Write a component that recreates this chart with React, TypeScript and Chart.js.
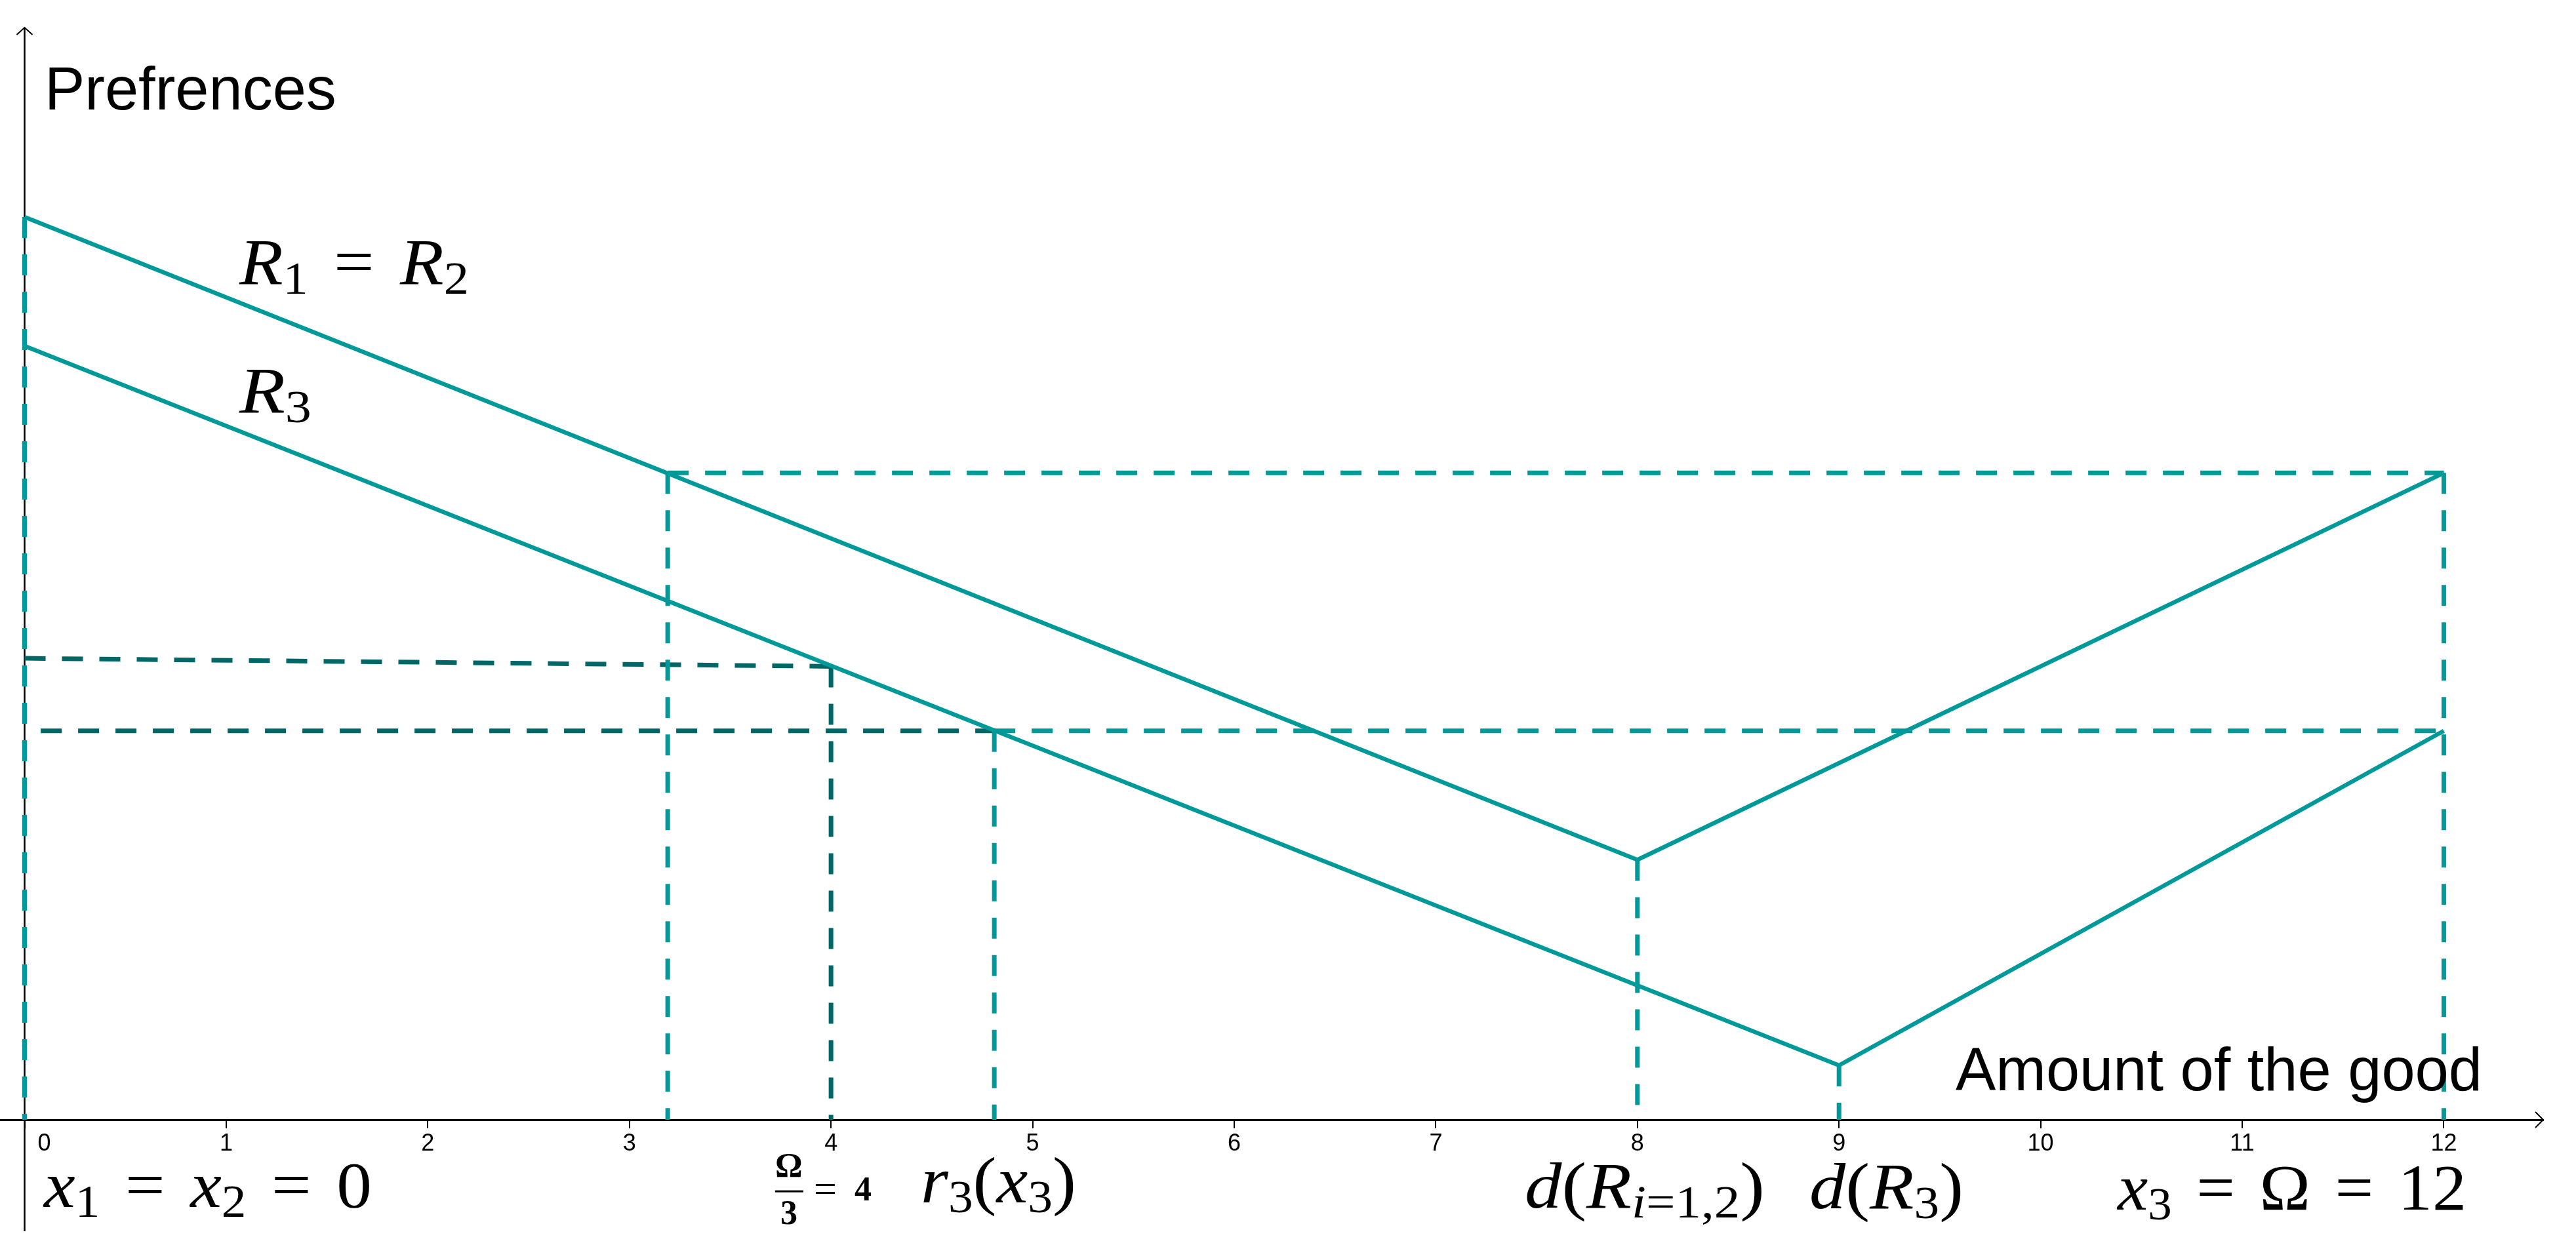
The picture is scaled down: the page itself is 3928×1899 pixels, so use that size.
import React, { useEffect, useRef } from "react";
import { Chart, registerables } from "chart.js";

Chart.register(...registerables);

const W = 3928;
const H = 1899;
const TEAL = "rgb(0, 153, 153)";
const DARK = "rgb(0, 102, 102)";

// axis ranges (data units)
const X_MIN = -0.122;
const X_MAX = 12.493;
const Y_MIN = 0;
const Y_MAX = 5.42;
const Y_AXIS_BOTTOM = -0.553;

// x axis ticks
const xTickValues = [0, 1, 2, 3, 4, 5, 6, 7, 8, 9, 10, 11, 12];
const xTickLabels = ["0", "1", "2", "3", "4", "5", "6", "7", "8", "9", "10", "11", "12"];

// preference curves
const r12X = [0, 8, 12];
const r12Y = [4.48, 1.29, 3.21];
const r3X = [0, 9, 12];
const r3Y = [3.84, 0.27, 1.93];

// dashed guides: [xStart, yStart, xEnd, yEnd]
const tealGuides: number[][] = [
  [0, 4.48, 0, 0],
  [3.19, 3.21, 12, 3.21],
  [3.19, 3.21, 3.19, 0],
  [4.81, 1.93, 12, 1.93],
  [4.81, 1.93, 4.81, 0],
  [8, 1.29, 8, 0],
  [9, 0.27, 9, 0],
  [12, 3.21, 12, 0],
];
const darkGuides: number[][] = [
  [0, 2.29, 4, 2.25],
  [4, 2.25, 4, 0],
  [0.08, 1.93, 4.81, 1.93],
];

// text labels
const yAxisTitle = "Prefrences";
const xAxisTitle = "Amount of the good";

type Part = { t?: string; it?: boolean; sub?: boolean; g?: number };
const G = 0.36;
const labelR12: Part[] = [{ t: "R", it: true }, { t: "1", sub: true }, { g: G }, { t: "=" }, { g: G }, { t: "R", it: true }, { t: "2", sub: true }];
const labelR3: Part[] = [{ t: "R", it: true }, { t: "3", sub: true }];
const labelX12: Part[] = [{ t: "x", it: true }, { t: "1", sub: true }, { g: G }, { t: "=" }, { g: G }, { t: "x", it: true }, { t: "2", sub: true }, { g: G }, { t: "=" }, { g: G }, { t: "0" }];
const labelR3x3: Part[] = [{ t: "r", it: true }, { t: "3", sub: true }, { t: "(" }, { t: "x", it: true }, { t: "3", sub: true }, { t: ")" }];
const labelDR12: Part[] = [{ t: "d", it: true }, { t: "(" }, { t: "R", it: true }, { t: "i", it: true, sub: true }, { t: "=", sub: true }, { t: "1,2", sub: true }, { t: ")" }];
const labelDR3: Part[] = [{ t: "d", it: true }, { t: "(" }, { t: "R", it: true }, { t: "3", sub: true }, { t: ")" }];
const labelX3: Part[] = [{ t: "x", it: true }, { t: "3", sub: true }, { g: G }, { t: "=" }, { g: G }, { t: "Ω" }, { g: G }, { t: "=" }, { g: G }, { t: "12" }];
const fracTop = "Ω";
const fracBottom = "3";
const fracRest = ["=", "4"];

// label anchors (data units): left x, baseline y; w = target width in px
const mathLabels: { parts: Part[]; x: number; y: number; w: number }[] = [
  { parts: labelR12, x: 1.065, y: 4.148, w: 350 },
  { parts: labelR3, x: 1.065, y: 3.51, w: 110 },
  { parts: labelX12, x: 0.096, y: -0.433, w: 500 },
  { parts: labelR3x3, x: 4.445, y: -0.41, w: 237 },
  { parts: labelDR12, x: 7.441, y: -0.436, w: 366 },
  { parts: labelDR3, x: 8.853, y: -0.439, w: 235 },
  { parts: labelX3, x: 10.382, y: -0.446, w: 532 },
];

const MATH_SIZE = 100;
const SERIF = '"Liberation Serif", "Times New Roman", serif';
const SANS = '"Liberation Sans", Arial, sans-serif';

function mathWidth(ctx: CanvasRenderingContext2D, parts: Part[], size: number) {
  let w = 0;
  for (const p of parts) {
    if (p.g) {
      w += p.g * size;
      continue;
    }
    const s = p.sub ? size * 0.7 : size;
    ctx.font = `${p.it ? "italic " : ""}${s}px ${SERIF}`;
    w += ctx.measureText(p.t || "").width;
  }
  return w;
}

function drawMath(ctx: CanvasRenderingContext2D, parts: Part[], x: number, y: number, size: number, target: number) {
  const natural = mathWidth(ctx, parts, size);
  const sx = target / natural;
  ctx.save();
  ctx.translate(x, y);
  ctx.scale(sx, 1);
  let cx = 0;
  for (const p of parts) {
    if (p.g) {
      cx += p.g * size;
      continue;
    }
    const s = p.sub ? size * 0.7 : size;
    ctx.font = `${p.it ? "italic " : ""}${s}px ${SERIF}`;
    ctx.fillText(p.t || "", cx, p.sub ? size * 0.15 : 0);
    cx += ctx.measureText(p.t || "").width;
  }
  ctx.restore();
}

const chevron = (ctx: CanvasRenderingContext2D, pts: number[][]) => {
  ctx.beginPath();
  ctx.moveTo(pts[0][0], pts[0][1]);
  ctx.lineTo(pts[1][0], pts[1][1]);
  ctx.lineTo(pts[2][0], pts[2][1]);
  ctx.stroke();
};

const overlayPlugin = {
  id: "overlay",
  beforeDatasetsDraw(chart: any) {
    const { ctx, scales } = chart;
    const xs = scales.x;
    const ys = scales.y;
    const x0 = xs.getPixelForValue(0);
    ctx.save();
    ctx.strokeStyle = "#000";
    ctx.lineWidth = 2.5;
    ctx.beginPath();
    ctx.moveTo(x0, ys.top);
    ctx.lineTo(x0, ys.getPixelForValue(Y_AXIS_BOTTOM));
    ctx.stroke();
    ctx.restore();
  },
  afterDraw(chart: any) {
    const { ctx, scales } = chart;
    const xs = scales.x;
    const ys = scales.y;
    const px = (v: number) => xs.getPixelForValue(v);
    const py = (v: number) => ys.getPixelForValue(v);
    ctx.save();
    // arrows
    ctx.strokeStyle = "#000";
    ctx.lineWidth = 2;
    const ax = xs.right;
    const ay = py(0);
    chevron(ctx, [[ax - 12, ay - 12], [ax, ay], [ax - 12, ay + 12]]);
    const tx = px(0);
    const ty = ys.top;
    chevron(ctx, [[tx - 12, ty + 11], [tx, ty], [tx + 12, ty + 11]]);

    // "0" tick label placed right of the y axis
    ctx.fillStyle = "#000";
    ctx.font = `36px ${SANS}`;
    ctx.textAlign = "left";
    ctx.textBaseline = "alphabetic";
    ctx.fillText(xTickLabels[0], px(0) + 20, py(0) + 47);

    // axis titles
    ctx.font = `92px ${SANS}`;
    ctx.fillText(yAxisTitle, px(0.099), py(5.013));
    ctx.fillText(xAxisTitle, px(9.578), py(0.146));

    // math labels
    for (const l of mathLabels) drawMath(ctx, l.parts, px(l.x), py(l.y), MATH_SIZE, l.w);

    // fraction Omega/3 = 4
    const fc = px(3.791);
    const fy = py(-0.355);
    ctx.font = `bold 52px ${SERIF}`;
    ctx.textAlign = "center";
    ctx.fillText(fracTop, fc, fy - 22);
    ctx.fillText(fracBottom, fc, fy + 50);
    ctx.fillRect(fc - 21, fy - 1.5, 43, 3);
    ctx.textAlign = "left";
    ctx.font = `62px ${SERIF}`;
    ctx.fillText(fracRest[0], fc + 38, fy + 17);
    ctx.font = `bold 52px ${SERIF}`;
    ctx.fillText(fracRest[1], fc + 100, fy + 14);
    ctx.restore();
  },
};

const toPts = (xs: number[], ys: number[]) => xs.map((x, i) => ({ x, y: ys[i] }));
const seg = (s: number[]) => [
  { x: s[0], y: s[1] },
  { x: s[2], y: s[3] },
];

export default function App() {
  const ref = useRef<HTMLCanvasElement | null>(null);
  useEffect(() => {
    if (!ref.current) return;
    const solid = { showLine: true, pointRadius: 0, borderWidth: 6.5, fill: false, clip: false as any, tension: 0 };
    const dashed = { showLine: true, pointRadius: 0, borderWidth: 7, borderDash: [32, 25], fill: false, clip: false as any, tension: 0 };
    const chart = new Chart(ref.current, {
      type: "scatter",
      data: {
        datasets: [
          { label: "R1 = R2", data: toPts(r12X, r12Y), borderColor: TEAL, ...solid },
          { label: "R3", data: toPts(r3X, r3Y), borderColor: TEAL, ...solid },
          ...tealGuides.map((s, i) => ({ label: "teal guide " + i, data: seg(s), borderColor: TEAL, ...dashed })),
          ...darkGuides.map((s, i) => ({ label: "dark guide " + i, data: seg(s), borderColor: DARK, ...dashed })),
        ] as any,
      },
      options: {
        animation: false,
        responsive: false,
        devicePixelRatio: 1,
        layout: { padding: { left: 0, right: 50, top: 42, bottom: 0 } },
        plugins: { legend: { display: false }, tooltip: { enabled: false } },
        events: [],
        scales: {
          x: {
            type: "linear",
            position: "bottom",
            min: X_MIN,
            max: X_MAX,
            afterBuildTicks: (scale: any) => {
              scale.ticks = xTickValues.map((v) => ({ value: v }));
            },
            afterFit: (scale: any) => {
              scale.height = H - 1708;
            },
            ticks: {
              autoSkip: false,
              maxRotation: 0,
              padding: 2,
              color: "#000",
              font: { family: SANS, size: 36 },
              callback: (v: any) => {
                const i = xTickValues.indexOf(Number(v));
                return i <= 0 ? "" : xTickLabels[i];
              },
            },
            grid: { display: true, drawOnChartArea: false, drawTicks: true, tickLength: 13, color: "#000", lineWidth: 2 },
            border: { display: true, color: "#000", width: 3 },
          },
          y: {
            type: "linear",
            display: false,
            min: Y_MIN,
            max: Y_MAX,
          },
        },
      } as any,
      plugins: [overlayPlugin],
    });
    return () => chart.destroy();
  }, []);
  return (
    <div style={{ position: "fixed", left: 0, top: 0, width: W, height: H, background: "#fff" }}>
      <canvas ref={ref} width={W} height={H} style={{ display: "block", width: W, height: H }} />
    </div>
  );
}
